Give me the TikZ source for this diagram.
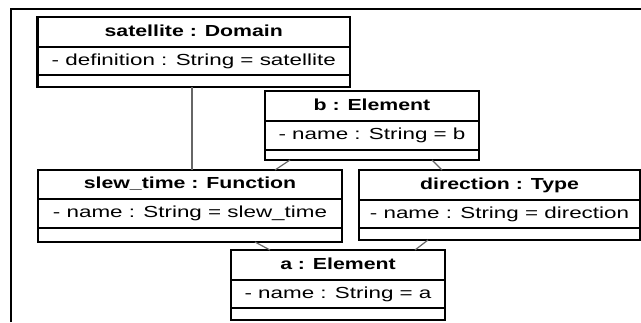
\documentclass[tikz,border=0pt]{standalone}
\usepackage{fontspec}
\setmainfont{Liberation Sans}[FakeStretch=1.4,BoldFeatures={FakeStretch=1.33}]
\begin{document}
\begin{tikzpicture}[x=1pt,y=-1pt,
  obj/.style={draw, line width=2.8pt, rectangle, outer sep=0pt, inner sep=0pt, anchor=north west},
  sepline/.style={line width=1.3pt},
  title/.style={font=\fontsize{16}{19}\selectfont\bfseries, inner sep=0pt, text height=11.5pt, text depth=3pt},
  attr/.style={font=\fontsize{16}{19}\selectfont, inner sep=0pt, text height=11.5pt, text depth=3pt},
  link/.style={draw=black!60, line width=1.2pt},
  frame/.style={line width=2pt}]
  % canvas
  \useasboundingbox (0,0) rectangle (641,322);
  % diagram frame (open to the right and bottom)
  \draw[frame] (11,322) -- (11,9) -- (641,9);

  % object box: name, x1, y1, x2, y2, sep1, sep2, title, attribute
  \newcommand\objbox[9]{%
    \node[obj, minimum width={(#4-#2)*1pt}, minimum height={(#5-#3)*1pt}] (#1) at (#2,#3) {};
    \draw[sepline] (#2,#6) -- (#4,#6);
    \draw[sepline] (#2,#7) -- (#4,#7);
    \node[title] (#1-t) at ({(#2+#4)/2},{(#3+#6)/2}) {#8};
    \node[attr] (#1-a) at ({(#2+#4)/2},{(#6+#7)/2}) {#9};
  }

  \objbox{sat}{37.5}{17}{350}{87}{47}{75}{satellite : Domain}{- definition : String = satellite}
  \objbox{b}{265}{91}{479}{160}{121}{150}{b : Element}{- name : String = b}
  \objbox{slew}{38}{170}{342}{242}{199}{228}{slew\_time : Function}{- name : String = slew\_time}
  \objbox{dir}{359}{170}{640}{240}{200}{228}{direction : Type}{- name : String = direction}
  \objbox{a}{231}{250}{445}{320}{280}{308}{a : Element}{- name : String = a}

  % links
  \draw[link] ([xshift=154.5pt]sat.south west) -- ([xshift=154pt]slew.north west);
  \draw[link] ([xshift=25pt]b.south west) -- ([xshift=237pt]slew.north west);
  \draw[link] ([xshift=167pt]b.south west) -- ([xshift=83pt]dir.north west);
  \draw[link] ([xshift=217pt]slew.south west) -- ([xshift=39pt]a.north west);
  \draw[link] ([xshift=69pt]dir.south west) -- ([xshift=184pt]a.north west);
\end{tikzpicture}
\end{document}
